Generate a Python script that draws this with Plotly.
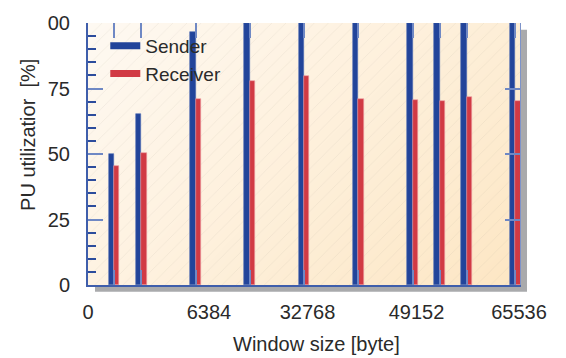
import plotly.graph_objects as go

# Measured CPU utilization per TCP window size
window_sizes = [4096, 8192, 16384, 24576, 32768, 40960, 49152, 53248, 57344, 64700]
sender_cpu = [49.9, 65.2, 96.6, 100, 100, 100, 100, 100, 100, 100]
receiver_cpu = [45.4, 50.2, 71.0, 77.8, 79.7, 71.0, 70.5, 70.1, 71.6, 70.1]

x_tick_labels = ["0", "6384", "32768", "49152", "65536"]
x_label_pos = [150, 18420, 33300, 49760, 65230]
y_tick_vals = [0, 25, 50, 75, 100]
y_tick_labels = ["0", "25", "50", "75", "00"]

X_RANGE = [150, 65385]
Y_RANGE = [0, 100]
BAR_W = 800

BLUE = "#22449a"
RED = "#d13a44"
AXIS = "#3f5eab"
TICK_LIGHT = "#6f88c4"
TICK_DARK = "#2c4c9c"
FONT = "Liberation Sans"
TXT = "#2a2a2a"

fig = go.Figure()

# soft diagonal cream-to-peach backdrop
fig.add_trace(go.Heatmap(
    x=X_RANGE, y=Y_RANGE,
    z=[[0.35, 1.0], [0.0, 0.6]],
    colorscale=[[0, "#fef9f2"], [1, "#fde6c3"]],
    zsmooth="best", showscale=False, hoverinfo="skip",
))

# diagonal hatch over the backdrop
fig.add_trace(go.Bar(
    x=[(X_RANGE[0] + X_RANGE[1]) / 2], y=[Y_RANGE[1]], base=0,
    width=[X_RANGE[1] - X_RANGE[0]],
    marker=dict(color="rgba(0,0,0,0)", line=dict(width=0),
                pattern=dict(shape="/", fgcolor="rgba(175,160,145,0.36)",
                             size=10, solidity=0.07)),
    showlegend=False, hoverinfo="skip",
))

fig.add_trace(go.Bar(
    x=window_sizes, y=sender_cpu, width=BAR_W, offset=-BAR_W,
    marker=dict(color=BLUE, line=dict(color="#4f6db5", width=0.6)),
    showlegend=False, name="Sender",
))
fig.add_trace(go.Bar(
    x=window_sizes, y=receiver_cpu, width=BAR_W, offset=0,
    marker=dict(color=RED, line=dict(color="#ec9aa0", width=0.6)),
    showlegend=False, name="Receiver",
))

# legend entries drawn as thick strokes
for name, col in [("Sender", BLUE), ("Receiver", RED)]:
    fig.add_trace(go.Scatter(x=[None], y=[None], mode="lines", name=name,
                             line=dict(color=col, width=7)))

# drop shadow behind the plotting frame
fig.add_shape(type="rect", xref="paper", yref="paper",
              x0=(95 - 88) / 432, x1=(527 - 88) / 432,
              y0=(286 - 293) / 267, y1=(286 - 26) / 267,
              fillcolor="#a9aaac", line=dict(width=0), layer="below")

fig.update_layout(
    width=566, height=358,
    margin=dict(l=88, r=46, t=18, b=73),
    paper_bgcolor="white", plot_bgcolor="rgba(0,0,0,0)",
    barmode="overlay", bargap=0,
    font=dict(family=FONT, size=20, color=TXT),
    showlegend=True,
    legend=dict(x=0.04, y=0.985, xanchor="left", yanchor="top",
                bgcolor="rgba(0,0,0,0)", font=dict(size=19, color=TXT),
                itemwidth=30, tracegroupgap=0),
    xaxis=dict(range=X_RANGE, tickmode="array", tickvals=window_sizes,
               showticklabels=False, ticks="inside", ticklen=15,
               tickcolor=TICK_LIGHT, tickwidth=1.5, showgrid=False,
               zeroline=False, showline=True, linecolor=AXIS, linewidth=2),
    xaxis2=dict(range=X_RANGE, overlaying="x", side="top", anchor="y",
                tickmode="array", tickvals=window_sizes, showticklabels=False,
                ticks="inside", ticklen=15, tickcolor=TICK_LIGHT, tickwidth=1.5,
                showgrid=False, zeroline=False, showline=False),
    xaxis3=dict(range=X_RANGE, overlaying="x", side="bottom", anchor="y",
                tickmode="array", tickvals=x_label_pos, ticktext=x_tick_labels,
                ticks="", showgrid=False, zeroline=False, showline=False,
                ticklabelstandoff=13, tickfont=dict(size=20, color=TXT)),
    yaxis=dict(range=Y_RANGE, tickmode="array", tickvals=y_tick_vals,
               ticktext=y_tick_labels, ticks="inside", ticklen=15,
               tickcolor=TICK_LIGHT, tickwidth=1.5, showgrid=False,
               zeroline=False, showline=True, linecolor=AXIS, linewidth=2,
               ticklabelstandoff=12,
               minor=dict(ticks="inside", ticklen=8, tickcolor=TICK_DARK,
                          tickwidth=1.5, dtick=5, tick0=0, showgrid=False)),
    yaxis2=dict(range=Y_RANGE, overlaying="y", side="right", anchor="x",
                tickmode="array", tickvals=[25, 50, 75], showticklabels=False,
                ticks="inside", ticklen=15, tickcolor=TICK_LIGHT, tickwidth=1.5,
                showgrid=False, zeroline=False, showline=True,
                linecolor="#7d93c9", linewidth=1),
    annotations=[
        dict(text="PU utilizatior  [%]", textangle=-90, xref="paper", yref="paper",
             x=(28 - 88) / 432, y=(285 - 131.5) / 268, xanchor="center",
             yanchor="middle", showarrow=False, font=dict(size=20, color=TXT)),
        dict(text="Window size [byte]", xref="paper", yref="paper",
             x=(316 - 88) / 432, y=(285 - 345) / 268, xanchor="center",
             yanchor="middle", showarrow=False, font=dict(size=20, color=TXT)),
    ],
)

# attach the overlay axes so they are rendered
fig.add_trace(go.Scatter(x=[None], y=[None], xaxis="x2", yaxis="y",
                         showlegend=False, hoverinfo="skip"))
fig.add_trace(go.Scatter(x=[None], y=[None], xaxis="x3", yaxis="y2",
                         showlegend=False, hoverinfo="skip"))

fig.write_html("out.html")
